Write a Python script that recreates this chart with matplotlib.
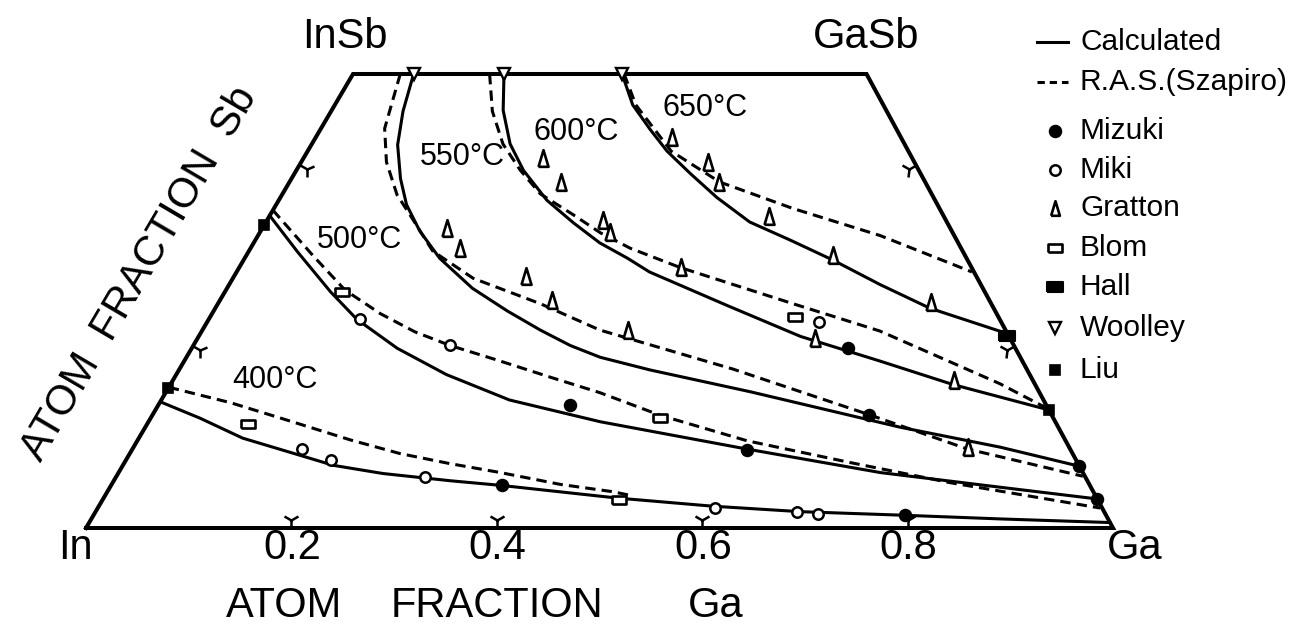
import matplotlib
matplotlib.use("Agg")
import matplotlib.pyplot as plt
from matplotlib.lines import Line2D
from matplotlib.markers import MarkerStyle
from matplotlib.transforms import Affine2D

# ---------------- data: compositions (atom fraction Ga, atom fraction Sb) ----------------
calc_400_ga = [0.000, 0.048, 0.101, 0.167, 0.205, 0.258, 0.328, 0.379, 0.500, 0.598, 0.686, 0.790, 0.885, 0.994]
calc_400_sb = [0.139, 0.121, 0.099, 0.080, 0.069, 0.060, 0.052, 0.047, 0.033, 0.024, 0.018, 0.014, 0.010, 0.006]
ras_400_ga = [0.000, 0.069, 0.130, 0.207, 0.263, 0.317, 0.372, 0.437, 0.492, 0.511]
ras_400_sb = [0.155, 0.138, 0.120, 0.097, 0.082, 0.071, 0.061, 0.048, 0.040, 0.036]

calc_500_ga = [0.000, 0.048, 0.103, 0.144, 0.200, 0.263, 0.339, 0.440, 0.598, 0.742, 0.866, 0.968]
calc_500_sb = [0.344, 0.304, 0.260, 0.230, 0.198, 0.169, 0.141, 0.117, 0.087, 0.061, 0.045, 0.032]
ras_500_ga = [0.000, 0.065, 0.116, 0.164, 0.208, 0.250, 0.304, 0.366, 0.423, 0.495, 0.594, 0.707, 0.815, 0.976]
ras_500_sb = [0.350, 0.300, 0.262, 0.236, 0.216, 0.201, 0.185, 0.166, 0.149, 0.124, 0.096, 0.072, 0.050, 0.022]

calc_550_ga = [0.059, 0.070, 0.084, 0.106, 0.127, 0.155, 0.190, 0.239, 0.286, 0.329, 0.367, 0.403, 0.459,
               0.569, 0.735, 0.844, 0.932]
calc_550_sb = [0.500, 0.459, 0.422, 0.385, 0.356, 0.327, 0.297, 0.264, 0.239, 0.218, 0.201, 0.188, 0.174,
               0.150, 0.111, 0.089, 0.068]
ras_550_ga = [0.046, 0.062, 0.083, 0.112, 0.136, 0.179, 0.234, 0.314, 0.387, 0.539, 0.697, 0.813, 0.941]
ras_550_sb = [0.500, 0.440, 0.403, 0.367, 0.345, 0.305, 0.275, 0.247, 0.218, 0.175, 0.125, 0.087, 0.057]

calc_600_ga = [0.147, 0.167, 0.193, 0.221, 0.261, 0.300, 0.337, 0.373, 0.402, 0.497, 0.586, 0.677, 0.762, 0.870]
calc_600_sb = [0.500, 0.460, 0.423, 0.394, 0.361, 0.336, 0.314, 0.297, 0.282, 0.245, 0.211, 0.184, 0.158, 0.130]
ras_600_ga = [0.133, 0.157, 0.186, 0.218, 0.251, 0.295, 0.332, 0.370, 0.429, 0.560, 0.660, 0.807, 0.869]
ras_600_sb = [0.500, 0.459, 0.423, 0.394, 0.368, 0.345, 0.325, 0.308, 0.287, 0.247, 0.217, 0.159, 0.131]

calc_650_ga = [0.262, 0.290, 0.321, 0.350, 0.386, 0.425, 0.471, 0.521, 0.574, 0.634, 0.696, 0.786]
calc_650_sb = [0.500, 0.466, 0.439, 0.415, 0.390, 0.364, 0.337, 0.317, 0.295, 0.268, 0.242, 0.214]
ras_650_ga = [0.264, 0.293, 0.354, 0.419, 0.505, 0.606, 0.716]
ras_650_sb = [0.500, 0.466, 0.415, 0.381, 0.352, 0.322, 0.282]

mizuki_ga = [0.401, 0.381, 0.599, 0.790, 0.639, 0.697, 0.932, 0.968]
mizuki_sb = [0.136, 0.047, 0.086, 0.014, 0.198, 0.125, 0.068, 0.032]
miki_ga = [0.165, 0.200, 0.301, 0.601, 0.683, 0.705, 0.147, 0.249, 0.596]
miki_sb = [0.087, 0.075, 0.056, 0.022, 0.018, 0.015, 0.230, 0.202, 0.227]
gratton_ga = [0.233, 0.264, 0.180, 0.204, 0.284, 0.323, 0.327, 0.341, 0.414, 0.430,
              0.346, 0.396, 0.418, 0.486, 0.571, 0.693, 0.601, 0.760, 0.813]
gratton_sb = [0.407, 0.381, 0.330, 0.308, 0.277, 0.251, 0.339, 0.326, 0.218, 0.287,
              0.431, 0.403, 0.381, 0.344, 0.301, 0.249, 0.209, 0.163, 0.089]
blom_ga = [0.098, 0.503, 0.114, 0.496, 0.570]
blom_sb = [0.114, 0.031, 0.260, 0.121, 0.232]
hall_ga = [0.787]
hall_sb = [0.212]
woolley_ga = [0.059, 0.147, 0.262]
woolley_sb = [0.500, 0.500, 0.500]
liu_ga = [0.000, 0.000, 0.870]
liu_sb = [0.154, 0.334, 0.130]

bottom_ticks = [0.2, 0.4, 0.6, 0.8]
bottom_tick_labels = ["0.2", "0.4", "0.6", "0.8"]
side_ticks = [0.2, 0.4]
temp_labels = ["400°C", "500°C", "550°C", "600°C", "650°C"]
legend_labels = ["Calculated", "R.A.S.(Szapiro)", "Mizuki", "Miki", "Gratton",
                 "Blom", "Hall", "Woolley", "Liu"]

# ---------------- geometry ----------------
SHEAR = 0.52


def to_xy(ga, sb):
    return [g + SHEAR * s for g, s in zip(ga, sb)], list(sb)


W, H = 1304, 635
fig = plt.figure(figsize=(W / 100, H / 100), dpi=100)
ax = fig.add_axes([0, 0, 1, 1])
ax.set_xlim(-86 / 1027, (W - 86) / 1027)
ax.set_ylim(-107 / 908, 528 / 908)
ax.axis("off")

FONT = "Liberation Sans"
K = "black"

# frame (pseudo-ternary trapezoid)
fx, fy = to_xy([0, 1, 0.5, 0, 0], [0, 0, 0.5, 0.5, 0])
ax.plot(fx, fy, color=K, lw=2.9, solid_joinstyle="miter", zorder=3)

# curves
solid_kw = dict(color=K, lw=2.2, zorder=2, solid_capstyle="round", solid_joinstyle="round")
dash_kw = dict(color=K, lw=2.2, zorder=2, linestyle=(0, (3.4, 2.0)))
for ga, sb in [(calc_400_ga, calc_400_sb), (calc_500_ga, calc_500_sb), (calc_550_ga, calc_550_sb),
               (calc_600_ga, calc_600_sb), (calc_650_ga, calc_650_sb)]:
    ax.plot(*to_xy(ga, sb), **solid_kw)
for ga, sb in [(ras_400_ga, ras_400_sb), (ras_500_ga, ras_500_sb), (ras_550_ga, ras_550_sb),
               (ras_600_ga, ras_600_sb), (ras_650_ga, ras_650_sb)]:
    ax.plot(*to_xy(ga, sb), **dash_kw)

# marker shapes
tall_tri = [(-0.3, -0.5), (0.3, -0.5), (0.0, 0.5), (-0.3, -0.5)]
flat_rect = [(-0.5, -0.3), (0.5, -0.3), (0.5, 0.3), (-0.5, 0.3), (-0.5, -0.3)]

styles = {
    "Mizuki": dict(marker="o", ms=8.5, mfc=K, mec=K, mew=1.2),
    "Miki": dict(marker="o", ms=7.5, mfc="white", mec=K, mew=1.8),
    "Gratton": dict(marker=tall_tri, ms=12, mfc="white", mec=K, mew=1.9),
    "Blom": dict(marker=flat_rect, ms=10, mfc="white", mec=K, mew=1.9),
    "Hall": dict(marker=flat_rect, ms=11, mfc=K, mec=K, mew=1.5),
    "Woolley": dict(marker="v", ms=8.5, mfc="white", mec=K, mew=1.7),
    "Liu": dict(marker="s", ms=6.5, mfc=K, mec=K, mew=1.2),
}
series = {
    "Mizuki": (mizuki_ga, mizuki_sb),
    "Miki": (miki_ga, miki_sb),
    "Gratton": (gratton_ga, gratton_sb),
    "Blom": (blom_ga, blom_sb),
    "Hall": (hall_ga, hall_sb),
    "Woolley": (woolley_ga, woolley_sb),
    "Liu": (liu_ga, liu_sb),
}
for name, (ga, sb) in series.items():
    x, y = to_xy(ga, sb)
    ax.plot(x, y, ls="none", zorder=5, **styles[name])


# Y-shaped edge ticks
def ytick(rot):
    return MarkerStyle("1", transform=Affine2D().translate(0, 0.5).rotate_deg(rot))


bx, by = to_xy(bottom_ticks, [0] * len(bottom_ticks))
ax.plot(bx, by, ls="none", marker=ytick(0), ms=12, mec=K, mew=1.8, zorder=4)
lx, ly = to_xy([0] * len(side_ticks), side_ticks)
ax.plot(lx, ly, ls="none", marker=ytick(-120.5), ms=12, mec=K, mew=1.8, zorder=4)
rx, ry = to_xy([1 - s for s in side_ticks], side_ticks)
ax.plot(rx, ry, ls="none", marker=ytick(118.5), ms=12, mec=K, mew=1.8, zorder=4)


def ftext(px, py, s, size, **kw):
    fig.text(px / W, 1 - py / H, s, ha=kw.pop("ha", "center"), va=kw.pop("va", "center"),
             fontsize=size, family=FONT, color=K, **kw)


# corner / tick labels
ftext(75, 548, "In", 30)
ftext(1135, 548, "Ga", 30)
for px, lab in zip([292, 497, 703, 908], bottom_tick_labels):
    ftext(px, 548, lab, 30)
ftext(345, 37, "InSb", 30)
ftext(866, 37, "GaSb", 30)

# axis titles
ftext(284, 606, "ATOM", 30)
ftext(497, 606, "FRACTION", 30)
ftext(716, 606, "Ga", 30)
ftext(140, 274, "ATOM  FRACTION  Sb", 30, rotation=59.5, rotation_mode="anchor")

# temperature labels
for (px, py), lab in zip([(275, 380), (359, 240), (462, 157), (576, 132), (705, 108)], temp_labels):
    ftext(px, py, lab, 22)

# legend
leg_y = [42, 82, 131, 170, 208, 248, 287, 328, 370]
fig.add_artist(Line2D([1037 / W, 1068 / W], [1 - leg_y[0] / H] * 2, transform=fig.transFigure,
                      color=K, lw=2.2))
fig.add_artist(Line2D([1037 / W, 1068 / W], [1 - leg_y[1] / H] * 2, transform=fig.transFigure,
                      color=K, lw=2.2, linestyle=(0, (2.4, 1.6))))
for name, py in zip(legend_labels[2:], leg_y[2:]):
    st = dict(styles[name])
    if name == "Gratton":
        st["ms"] = 10.5
    fig.add_artist(Line2D([1055 / W], [1 - py / H], transform=fig.transFigure, ls="none", **st))
for lab, py in zip(legend_labels, leg_y):
    ftext(1080, py, lab, 21.5, ha="left")

fig.savefig("out.png", dpi=100)
